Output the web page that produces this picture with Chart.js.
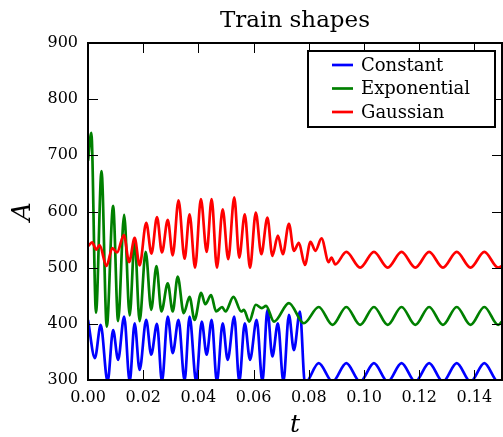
<!DOCTYPE html>
<html>
<head>
<meta charset="utf-8">
<script src="https://cdn.jsdelivr.net/npm/chart.js@4"></script>
<style>
  html, body { margin: 0; padding: 0; background: #fff; }
  #chart { display: block; }
</style>
</head>
<body>
<canvas id="chart" width="503" height="437"></canvas>
<script>
// values (peaks and troughs)
const constT = [0, 0.0025, 0.0046, 0.0071, 0.0091, 0.0109, 0.0131, 0.0151, 0.0169, 0.0187,
  0.0211, 0.0229, 0.025, 0.0268, 0.0289, 0.0307, 0.0328, 0.035, 0.0368, 0.0392,
  0.0412, 0.043, 0.0448, 0.0467, 0.0488, 0.0506, 0.053, 0.0548, 0.0568, 0.0587,
  0.0611, 0.0632, 0.065, 0.0668, 0.0688, 0.0708, 0.0728, 0.0746, 0.0768, 0.0786,
  0.0836, 0.0886, 0.0936, 0.0986, 0.1036, 0.1086, 0.1136, 0.1186, 0.1236, 0.1286,
  0.1336, 0.1386, 0.1436, 0.1486, 0.15];
const constA = [407, 339, 398, 297, 389, 336, 413, 297, 401, 318,
  407, 345, 400, 297, 413, 348, 407, 299, 413, 297,
  404, 345, 407, 297, 401, 336, 413, 297, 401, 336,
  407, 297, 425, 342, 401, 297, 416, 353, 422, 294,
  330, 297, 330, 297, 330, 297, 330, 297, 330, 297,
  330, 297, 330, 297, 299];

const expT = [0, 0.0012, 0.0029, 0.0049, 0.0068, 0.0091, 0.0109, 0.0131, 0.0151, 0.0169,
  0.0187, 0.0209, 0.0229, 0.0248, 0.0266, 0.0289, 0.0307, 0.0325, 0.0347, 0.0368,
  0.0386, 0.041, 0.0425, 0.0446, 0.0464, 0.0486, 0.0498, 0.0527, 0.0555, 0.0565,
  0.0584, 0.0608, 0.063, 0.0645, 0.0674, 0.0728, 0.0782, 0.0836, 0.0886, 0.0936,
  0.0986, 0.1036, 0.1086, 0.1136, 0.1186, 0.1236, 0.1286, 0.1336, 0.1386, 0.1436,
  0.1486, 0.15];
const expA = [690, 740, 420, 672, 395, 610, 405, 594, 415, 549,
  405, 528, 425, 503, 422, 472, 422, 484, 419, 448,
  407, 455, 435, 451, 422, 430, 422, 448, 422, 425,
  404, 434, 428, 432, 404, 437, 401, 430, 398, 430,
  398, 430, 398, 430, 398, 430, 398, 430, 398, 430,
  398, 404];

const gaussT = [0, 0.0015, 0.003, 0.0042, 0.0067, 0.0088, 0.0105, 0.013, 0.0149, 0.0169,
  0.0187, 0.0211, 0.023, 0.025, 0.0268, 0.0289, 0.0307, 0.0328, 0.035, 0.0368,
  0.0388, 0.0409, 0.043, 0.0448, 0.0467, 0.0488, 0.0508, 0.053, 0.0548, 0.0568,
  0.0587, 0.0608, 0.0628, 0.065, 0.0668, 0.0688, 0.0706, 0.0728, 0.0746, 0.0764,
  0.0786, 0.0806, 0.0824, 0.0846, 0.0872, 0.0882, 0.0896, 0.0936, 0.0986, 0.1036,
  0.1086, 0.1136, 0.1186, 0.1236, 0.1286, 0.1336, 0.1386, 0.1436, 0.1486, 0.15];
const gaussA = [538, 545, 532, 540, 503, 535, 527, 558, 510, 553,
  504, 580, 525, 590, 527, 585, 522, 620, 516, 595,
  500, 622, 528, 622, 500, 604, 515, 625, 518, 595,
  500, 598, 524, 589, 521, 557, 524, 578, 530, 544,
  505, 546, 530, 552, 510, 518, 506, 528, 500, 528,
  500, 528, 500, 528, 500, 528, 500, 528, 500, 503];

const seriesNames = ['Constant', 'Exponential', 'Gaussian'];
const seriesColors = ['#0000ff', '#008000', '#ff0000'];
const xTicks = [0, 0.02, 0.04, 0.06, 0.08, 0.10, 0.12, 0.14];
const yTicks = [300, 400, 500, 600, 700, 800, 900];
const titleText = 'Train shapes';

const serif = "'DejaVu Serif', serif";

function pts(ts, as) {
  return ts.map((t, i) => ({ x: t, y: as[i] }));
}

// matplotlib-style box with inward ticks on all four sides
const framePlugin = {
  id: 'frame',
  afterDatasetsDraw(chart) {
    const { ctx, chartArea: a, scales } = chart;
    ctx.save();
    ctx.strokeStyle = '#000';
    ctx.lineWidth = 1;
    ctx.beginPath();
    scales.x.ticks.forEach((t) => {
      const px = Math.round(scales.x.getPixelForValue(t.value)) + 0.5;
      ctx.moveTo(px, a.bottom); ctx.lineTo(px, a.bottom - 10);
      ctx.moveTo(px, a.top); ctx.lineTo(px, a.top + 10);
    });
    scales.y.ticks.forEach((t) => {
      const py = Math.round(scales.y.getPixelForValue(t.value)) + 0.5;
      ctx.moveTo(a.left, py); ctx.lineTo(a.left + 10, py);
      ctx.moveTo(a.right, py); ctx.lineTo(a.right - 10, py);
    });
    ctx.stroke();
    ctx.lineWidth = 2;
    ctx.strokeRect(a.left, a.top, a.right - a.left, a.bottom - a.top);
    ctx.restore();
  },
  afterDraw(chart) {
    const { ctx, chartArea: a } = chart;
    ctx.save();
    // title, centred over the plot area like matplotlib
    ctx.font = '23px ' + serif;
    ctx.fillStyle = '#000';
    ctx.textAlign = 'center';
    ctx.textBaseline = 'middle';
    ctx.fillText(titleText, (a.left + a.right) / 2, 21);

    // legend box in the upper right corner of the plot
    const bx = a.right - 194, by = a.top + 8, bw = 187, bh = 76;
    ctx.fillStyle = '#fff';
    ctx.fillRect(bx, by, bw, bh);
    ctx.strokeStyle = '#000';
    ctx.lineWidth = 2;
    ctx.strokeRect(bx, by, bw, bh);
    ctx.font = '18px ' + serif;
    ctx.textAlign = 'left';
    chart.data.datasets.forEach((ds, i) => {
      const cy = by + 14 + i * 23.5;
      ctx.strokeStyle = ds.borderColor;
      ctx.lineWidth = 2.7;
      ctx.beginPath();
      ctx.moveTo(bx + 24, cy);
      ctx.lineTo(bx + 45, cy);
      ctx.stroke();
      ctx.fillStyle = '#000';
      ctx.fillText(ds.label, bx + 53, cy + 1);
    });
    ctx.restore();
  }
};

new Chart(document.getElementById('chart'), {
  type: 'line',
  data: {
    datasets: [
      { label: seriesNames[0], data: pts(constT, constA), borderColor: seriesColors[0], order: 3 },
      { label: seriesNames[1], data: pts(expT, expA), borderColor: seriesColors[1], order: 2 },
      { label: seriesNames[2], data: pts(gaussT, gaussA), borderColor: seriesColors[2], order: 1 }
    ]
  },
  options: {
    responsive: false,
    animation: false,
    devicePixelRatio: 1,
    datasets: {
      line: { borderWidth: 2.7, pointRadius: 0, cubicInterpolationMode: 'monotone', fill: false, clip: 0 }
    },
    layout: { padding: { left: 0, right: 1, top: 43, bottom: 0 } },
    plugins: {
      legend: { display: false },
      tooltip: { enabled: false },
      title: { display: false }
    },
    scales: {
      x: {
        type: 'linear',
        min: 0,
        max: 0.15,
        afterBuildTicks: (s) => { s.ticks = xTicks.map((v) => ({ value: v })); },
        afterFit: (s) => { s.height = 57; },
        grid: { display: false, drawTicks: false },
        border: { display: false },
        ticks: {
          color: '#000',
          padding: 8,
          maxRotation: 0,
          font: { family: serif, size: 16 },
          callback: (v) => v.toFixed(2)
        },
        title: {
          display: true,
          text: 't',
          color: '#000',
          font: { family: serif, size: 25, style: 'italic' },
          padding: { top: 0, bottom: -3 }
        }
      },
      y: {
        type: 'linear',
        min: 300,
        max: 900,
        afterBuildTicks: (s) => { s.ticks = yTicks.map((v) => ({ value: v })); },
        afterFit: (s) => { s.width = 88; },
        grid: { display: false, drawTicks: false },
        border: { display: false },
        ticks: {
          color: '#000',
          padding: 10,
          font: { family: serif, size: 16 }
        },
        title: {
          display: true,
          text: 'A',
          color: '#000',
          font: { family: serif, size: 26, style: 'italic' },
          padding: { top: 8, bottom: 0 }
        }
      }
    }
  },
  plugins: [framePlugin]
});
</script>
</body>
</html>
